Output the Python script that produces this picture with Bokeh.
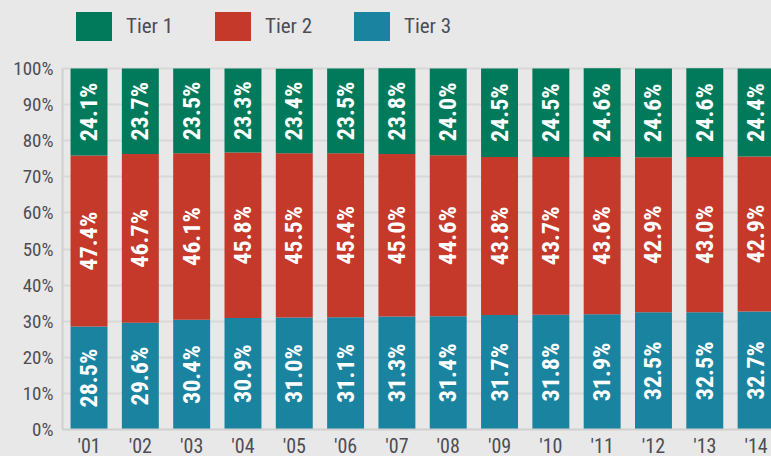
import math
from bokeh.plotting import figure
from bokeh.models import ColumnDataSource, FixedTicker, Legend, LegendItem, Range1d, CustomJSTickFormatter
from bokeh.core.properties import value
from bokeh.embed import file_html
from bokeh.resources import INLINE

years = ["'01", "'02", "'03", "'04", "'05", "'06", "'07", "'08", "'09", "'10", "'11", "'12", "'13", "'14"]
tier1 = [24.1, 23.7, 23.5, 23.3, 23.4, 23.5, 23.8, 24.0, 24.5, 24.5, 24.6, 24.6, 24.6, 24.4]
tier2 = [47.4, 46.7, 46.1, 45.8, 45.5, 45.4, 45.0, 44.6, 43.8, 43.7, 43.6, 42.9, 43.0, 42.9]
tier3 = [28.5, 29.6, 30.4, 30.9, 31.0, 31.1, 31.3, 31.4, 31.7, 31.8, 31.9, 32.5, 32.5, 32.7]
series = ["Tier 1", "Tier 2", "Tier 3"]
colors = {"Tier 1": "#007a5a", "Tier 2": "#c4392a", "Tier 3": "#1a84a0"}

FONT = "Roboto Condensed, Liberation Sans"
BG = "#e8e8e8"

# layout: plot area 361px tall for 0-100%, plus 60px headroom for the legend
AREA_H, HEAD = 361, 60
y_top = 100 * (AREA_H + HEAD) / AREA_H

xs = list(range(len(years)))
source = ColumnDataSource(dict(x=xs, t3=tier3, t2=tier2, t1=tier1))

p = figure(frame_width=709, frame_height=AREA_H + HEAD, output_backend="svg", toolbar_location=None,
           x_range=Range1d(-0.517, 13.30), y_range=Range1d(0, y_top),
           min_border_left=54, min_border_right=0, min_border_top=0, min_border_bottom=0)
p.background_fill_color = BG
p.border_fill_color = BG
p.outline_line_color = None

renderers = p.vbar_stack(["t3", "t2", "t1"], x="x", width=0.72, source=source,
                         color=[colors["Tier 3"], colors["Tier 2"], colors["Tier 1"]],
                         line_color=None)

lx, ly, lt = [], [], []
for i in xs:
    b = 0.0
    for v in (tier3[i], tier2[i], tier1[i]):
        lx.append(i)
        ly.append(b + v / 2)
        lt.append(f"{v:.1f}%")
        b += v
p.text(x=lx, y=ly, text=lt, angle=math.pi / 2, text_align="center", text_baseline="middle",
       text_color="white", text_font=value(FONT), text_font_style="bold", text_font_size="24px")

legend = Legend(items=[LegendItem(label=s, renderers=[r]) for s, r in
                       zip(series, [renderers[2], renderers[1], renderers[0]])],
                orientation="horizontal", location=(9, AREA_H + HEAD - 36),
                glyph_width=45, glyph_height=36, label_standoff=10, label_width=84, spacing=0,
                padding=0, margin=0, border_line_color=None, background_fill_alpha=0,
                label_text_font=FONT, label_text_font_size="21px", label_text_color="#4d4d55",
                label_height=36)
p.add_layout(legend, "center")

p.xaxis.ticker = FixedTicker(ticks=xs)
p.xaxis.major_label_overrides = {i: y for i, y in zip(xs, years)}
p.yaxis.ticker = FixedTicker(ticks=list(range(0, 101, 10)))
p.yaxis.formatter = CustomJSTickFormatter(code="return tick + '%';")
p.yaxis.bounds = (0, 100)
for ax in (p.xaxis[0], p.yaxis[0]):
    ax.axis_line_color = "#cfcfcf"
    ax.axis_line_width = 2
    ax.major_tick_line_color = None
    ax.minor_tick_line_color = None
    ax.major_tick_out = 0
    ax.major_tick_in = 0
    ax.major_label_text_font = FONT
    ax.major_label_text_color = "#4d4d55"
p.yaxis.major_label_text_font_size = "19px"
p.xaxis.major_label_text_font_size = "20px"
p.yaxis.major_label_standoff = 9
p.xaxis.major_label_standoff = 4
p.xgrid.grid_line_color = None
p.ygrid.grid_line_color = "#d8d8d8"
p.ygrid.grid_line_width = 2

html = file_html(p, INLINE)
html = html.replace("</head>", "<style>html,body{background:#e8e8e8;overflow:hidden;}body{margin:8px 0 0 8px;}</style></head>", 1)
open("out.html", "w").write(html)
